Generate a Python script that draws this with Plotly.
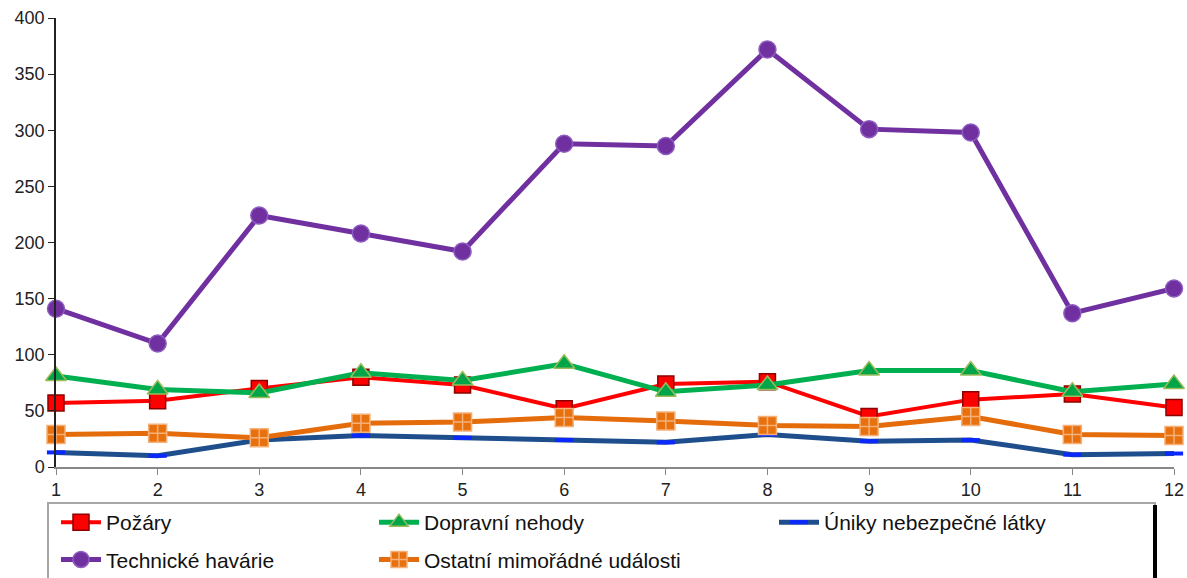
import plotly.graph_objects as go

months = [1, 2, 3, 4, 5, 6, 7, 8, 9, 10, 11, 12]
pozary = [57, 59, 70, 80, 73, 52, 74, 76, 45, 60, 65, 53]
dopravni = [81, 69, 66, 84, 77, 92, 67, 73, 86, 86, 67, 74]
uniky = [13, 10, 24, 28, 26, 24, 22, 29, 23, 24, 11, 12]
technicke = [141, 110, 224, 208, 192, 288, 286, 372, 301, 298, 137, 159]
ostatni = [29, 30, 26, 39, 40, 44, 41, 37, 36, 45, 29, 28]

W, H = 1187, 578
# plot area in page pixels
L, R, T, B = 56, 1174, 18, 467


def px(x):
    return (x - L) / (R - L)


def py(y):
    return (B - y) / (B - T)


fig = go.Figure()
fig.add_trace(go.Scatter(x=months, y=pozary, name="Požáry", mode="lines+markers",
                         line=dict(color="#ff0000", width=4),
                         marker=dict(symbol="square", size=16, color="#ff0000",
                                     line=dict(color="#8b0000", width=1.5)),
                         legend="legend", legendgroup="a", cliponaxis=False))
fig.add_trace(go.Scatter(x=months, y=dopravni, name="Dopravní nehody", mode="lines+markers",
                         line=dict(color="#00b050", width=5),
                         marker=dict(symbol="triangle-up", size=18, color="#00a54a",
                                     line=dict(color="#9bbb59", width=1.5)),
                         legend="legend2", legendgroup="b", cliponaxis=False))
fig.add_trace(go.Scatter(x=months, y=uniky, name="Úniky nebezpečné látky", mode="lines+markers",
                         line=dict(color="#1f4e8c", width=5),
                         marker=dict(symbol="line-ew", size=13, color="#1f4e8c",
                                     line=dict(color="#0a28ff", width=4)),
                         legend="legend3", legendgroup="c", cliponaxis=False))
fig.add_trace(go.Scatter(x=months, y=technicke, name="Technické havárie", mode="lines+markers",
                         line=dict(color="#7030a0", width=5),
                         marker=dict(symbol="circle", size=17, color="#7030a0",
                                     line=dict(color="#8e5cc0", width=1.5)),
                         legend="legend", legendgroup="d", cliponaxis=False))
fig.add_trace(go.Scatter(x=months, y=ostatni, name="Ostatní mimořádné události", mode="lines+markers",
                         line=dict(color="#e46c0a", width=5),
                         marker=dict(symbol="square-cross", size=18, color="#e8710f",
                                     line=dict(color="#f5b078", width=1.5)),
                         legend="legend2", legendgroup="e", cliponaxis=False))

leg_common = dict(font=dict(family="Liberation Sans, Arial, sans-serif", size=21, color="#111"),
                  bgcolor="rgba(0,0,0,0)", borderwidth=0, itemwidth=40,
                  tracegroupgap=7, xref="container", yref="container",
                  xanchor="left", yanchor="top", traceorder="grouped")
ly = 1 - 502 / H

fig.update_layout(
    width=W, height=H,
    margin=dict(l=L, r=W - R, t=T, b=H - B, autoexpand=False),
    paper_bgcolor="white", plot_bgcolor="white",
    font=dict(family="Liberation Sans, Arial, sans-serif", size=18, color="#222"),
    xaxis=dict(range=[1, 12], tickmode="array", tickvals=months, ticks="outside",
               ticklen=6, tickcolor="#888", showline=True, linecolor="#888", linewidth=1.5,
               showgrid=False, zeroline=False, tickfont=dict(size=18, color="#222")),
    yaxis=dict(range=[0, 400], dtick=50, ticks="outside", ticklen=6, tickcolor="#222",
               showline=True, linecolor="#222", linewidth=1.5, showgrid=False,
               zeroline=False, tickfont=dict(size=18, color="#222")),
    legend=dict(x=56 / W, y=ly, **leg_common),
    legend2=dict(x=374 / W, y=ly, **leg_common),
    legend3=dict(x=774 / W, y=ly, **leg_common),
    shapes=[
        dict(type="rect", xref="paper", yref="paper", x0=px(48), x1=px(1155),
             y0=py(600), y1=py(503), line=dict(color="#a6a6a6", width=2)),
        dict(type="line", xref="paper", yref="paper", x0=px(1155), x1=px(1155),
             y0=py(600), y1=py(505), line=dict(color="#000", width=4)),
    ],
)

fig.write_html("out.html", config={"displayModeBar": False},
               post_script="document.body.style.margin='0';document.body.style.overflow='hidden';")
